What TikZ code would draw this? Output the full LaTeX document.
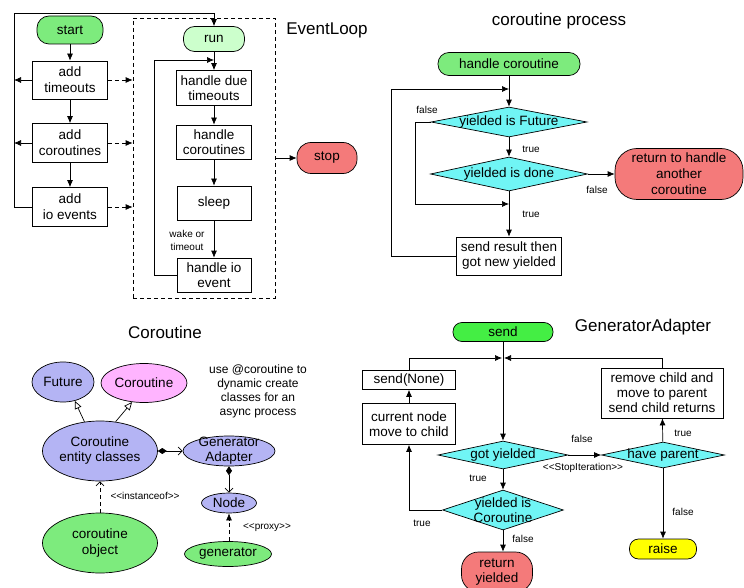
\documentclass[tikz,border=0pt]{standalone}
\usepackage{fontspec}
\setmainfont{Liberation Sans}
\usetikzlibrary{shapes.geometric,arrows.meta}
\definecolor{cgreen}{HTML}{7DEB7D}
\definecolor{lgreen}{HTML}{CCFFCC}
\definecolor{bgreen}{HTML}{44EE44}
\definecolor{salmon}{HTML}{F47A7A}
\definecolor{dcyan}{HTML}{70F5F5}
\definecolor{lav}{HTML}{B4B4F4}
\definecolor{pinkc}{HTML}{FFB4FF}
\definecolor{yel}{HTML}{FFFF00}
\begin{document}
\begin{tikzpicture}[x=1pt,y=-1pt,
  every node/.style={font=\fontsize{13.5}{15}\selectfont, inner sep=1pt},
  ln/.style={line width=0.7pt},
  sz/.style 2 args={minimum width=#1pt, minimum height=#2pt},
  box/.style={draw, ln, fill=white, align=center, inner sep=1pt},
  dia/.style={draw, ln, diamond, fill=dcyan, inner sep=0pt},
  ell/.style={draw, ln, ellipse, inner sep=0pt},
  arr/.style={ln, -{Latex[length=7pt,width=6pt]}},
  dsh/.style={dash pattern=on 4pt off 3pt},
  small/.style={font=\fontsize{10}{13}\selectfont},
  ttl/.style={font=\fontsize{17}{20}\selectfont},
  cl/.style={align=center}
]
\useasboundingbox (0,0) rectangle (744,588);
\clip (0,0) rectangle (744,588);

% ---------------- EventLoop ----------------
\node[box, fill=cgreen, sz={66}{28}, rounded corners=12pt] (start) at (70,30) {start};
\node[box, sz={75}{38}, font=\fontsize{13.5}{16}\selectfont] (addt) at (70,80) {add\\timeouts};
\node[box, sz={75}{39}, font=\fontsize{13.5}{16}\selectfont] (addc) at (70,143) {add\\coroutines};
\node[box, sz={75}{39}, font=\fontsize{13.5}{16}\selectfont] (addi) at (70,207) {add\\io events};
\draw[arr] (start) -- (addt);
\draw[arr] (addt) -- (addc);
\draw[arr] (addc) -- (addi);

\node[draw, ln, dsh, minimum width=142pt, minimum height=280pt, inner sep=0pt] (evl) at (204,158) {};
\node[box, fill=lgreen, sz={61}{25}, rounded corners=11pt] (run) at (214,39) {run};
\node[box, sz={75}{35}] (hdt) at (214,88) {handle due\\timeouts};
\node[box, sz={75}{34}] (hc) at (214,142) {handle\\coroutines};
\node[box, sz={74}{34}] (slp) at (214,203) {sleep};
\node[box, sz={74}{34}] (hio) at (214,275) {handle io\\event};

\coordinate (lpA) at (14,13);
\draw[arr] (addi.west) -| (lpA) -| (run.north);
\draw[arr] (addt.west) -- (addt.west -| lpA);
\draw[arr] (addc.west) -- (addc.west -| lpA);
\draw[arr, dsh] (addt.east) -- (addt.east -| evl.west);
\draw[arr, dsh] (addc.east) -- (addc.east -| evl.west);
\draw[arr, dsh] (addi.east) -- (addi.east -| evl.west);

\draw[arr] (run) -- (hdt);
\draw[arr] (hdt) -- (hc);
\draw[arr] (hc) -- (slp);
\draw[arr] (slp) -- (hio);
\coordinate (lpB) at (154,60);
\draw[arr] (hio.west) -| (lpB) -- (lpB -| hdt.north);
\node[small, cl] (wk) at (187,240) {wake or\\timeout};

\node[ttl] (t1) at (327,30) {EventLoop};
\node[box, fill=salmon, sz={60}{31}, rounded corners=14pt] (stop) at (327,158) {stop};
\draw[arr] (evl.east |- stop) -- (stop.west);

% ---------------- coroutine process ----------------
\node[ttl] (t2) at (559,21) {coroutine process};
\node[box, fill=cgreen, sz={142}{23}, rounded corners=11pt] (hcor) at (509,64) {handle coroutine};
\node[dia, sz={156}{30}, label={center:yielded is Future}] (d1) at (509,122) {};
\node[dia, sz={157}{34}, label={center:yielded is done}] (d2) at (509,174) {};
\node[box, fill=salmon, sz={128}{51}, rounded corners=22pt, font=\fontsize{13.5}{16}\selectfont] (ret) at (679,174) {return to handle\\another\\coroutine};
\node[box, sz={105}{38}] (sr) at (509,256) {send result then\\got new yielded};
\draw[arr] (hcor) -- (d1);
\coordinate (cpA) at (391,89);
\draw[arr] (sr.west) -| (cpA) -- (cpA -| d1.north);
\coordinate (cpB) at (415,204);
\draw[arr] (d1.west) -| (cpB) -- (cpB -| d1.north);
\draw[arr] (d1) -- (d2);
\draw[arr] (d2.east) -- (ret.west);
\draw[arr] (d2) -- (sr);
\node[small] (lf1) at (427,110) {false};
\node[small] (lt1) at (531,149) {true};
\node[small] (lf2) at (597,190) {false};
\node[small] (lt2) at (531,214) {true};

% ---------------- Coroutine ----------------
\node[ttl] (t3) at (165,332) {Coroutine};
\node[ell, fill=lav, sz={62}{40}, label={center:Future}] (fut) at (63,382) {};
\node[ell, fill=pinkc, sz={86}{39}, label={center:Coroutine}] (cor) at (144,383) {};
\node[cl, font=\fontsize{12}{14}\selectfont] (use) at (258,391) {use @coroutine to\\dynamic create\\classes for an\\async process};
\node[ell, fill=lav, sz={115}{60}, label={[cl]center:{Coroutine\\entity classes}}] (ent) at (100,451) {};
\node[ell, fill=lav, sz={92}{30}, label={[cl]center:{Generator\\Adapter}}] (ga) at (229,451) {};
\node[ell, fill=lav, sz={55}{20}, label={center:Node}] (nd) at (229,503) {};
\node[ell, fill=cgreen, sz={115}{60}, label={[cl, font=\fontsize{13.5}{16}\selectfont]center:{coroutine\\object}}] (cobj) at (100,543) {};
\node[ell, fill=cgreen, sz={87}{25}, label={center:generator}] (gen) at (228,554) {};
\draw[ln, -{Triangle[open,length=8pt,width=7pt]}] (ent.118) -- (fut.-58);
\draw[ln, -{Triangle[open,length=8pt,width=7pt]}] (ent.62) -- (cor.238);
\draw[ln, {Diamond[length=9pt,width=6pt]}-{Straight Barb[length=4pt,width=8pt]}] (ent.east) -- (ga.west);
\draw[ln, {Diamond[length=9pt,width=6pt]}-{Straight Barb[length=4pt,width=8pt]}] (ga.south) -- (nd.north);
\draw[ln, dsh, -{Straight Barb[length=4pt,width=8pt]}] (cobj.north) -- (ent.south);
\draw[ln, dsh, -{Latex[length=7pt,width=6pt]}] (gen.north -| nd.south) -- (nd.south);
\node[small] (inst) at (145,496) {<\kern0pt<instanceof>\kern0pt>};
\node[small] (prx) at (267,528) {<\kern0pt<proxy>\kern0pt>};

% ---------------- GeneratorAdapter ----------------
\node[ttl] (t4) at (643,327) {GeneratorAdapter};
\node[box, fill=bgreen, sz={100}{19}, rounded corners=9pt] (snd) at (503,332) {send};
\node[box, sz={93}{19}] (sn) at (409,380) {send(None)};
\node[box, sz={93}{41}] (cur) at (409,424) {current node\\move to child};
\node[box, sz={122}{50}] (rc) at (662,393) {remove child and\\move to parent\\send child returns};
\node[dia, sz={130}{28}, label={center:got yielded}] (gy) at (503,455) {};
\node[dia, sz={123}{26}, label={center:have parent}] (hp) at (663,455) {};
\node[dia, sz={121}{40}, label={[cl]center:{yielded is\\Coroutine}}] (yc) at (503,510) {};
\node[box, fill=yel, sz={67}{20}, rounded corners=9pt] (rs) at (663,549) {raise};
\node[box, fill=salmon, sz={71}{40}, rounded corners=17pt] (ry) at (497,572) {return\\yielded};

\coordinate (jn) at (503,358);
\draw[arr] (snd) -- (gy);
\draw[arr, shorten >=1pt] (sn.north) |- (jn);
\draw[arr, shorten >=1pt] (rc.north) |- (jn);
\draw[arr] (cur) -- (sn);
\draw[arr] (yc.west) -| (cur.south);
\draw[arr] (gy.east) -- (hp.west);
\draw[arr] (hp) -- (rc);
\draw[arr] (hp) -- (rs);
\draw[arr] (gy) -- (yc);
\draw[arr] (yc.south) -- (yc.south |- ry.north);
\node[small] (lf3) at (582,439) {false};
\node[small] (lsi) at (583,468) {<\kern0pt<StopIteration>\kern0pt>};
\node[small] (lt3) at (683,433) {true};
\node[small] (lf4) at (683,512) {false};
\node[small] (lt4) at (478,478) {true};
\node[small] (lt5) at (422,523) {true};
\node[small] (lf5) at (523,539) {false};
\end{tikzpicture}
\end{document}
